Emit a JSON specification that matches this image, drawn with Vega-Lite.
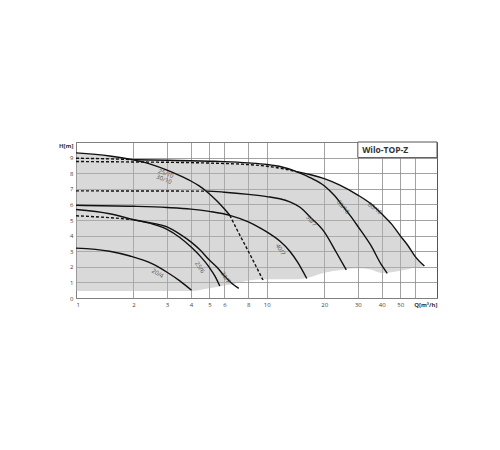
{
  "$schema": "https://vega.github.io/schema/vega-lite/v6.json",
  "width": 361,
  "height": 156,
  "autosize": {"type": "none"},
  "padding": {"left": 76, "top": 142, "right": 63, "bottom": 152},
  "background": "white",
  "config": {
    "font": "Open Sans",
    "view": {"stroke": "#555", "strokeWidth": 1},
    "axis": {
      "ticks": false,
      "domain": false,
      "labelFontSize": 6,
      "labelColor": "#444",
      "gridColor": "#8a8a8a",
      "gridWidth": 0.8,
      "titleFontSize": 6,
      "titleFontWeight": "bold",
      "titleColor": "#333"
    }
  },
  "datasets": {
    "band": [
      {"q": 1, "h": 9.3, "h2": 0.45},
      {"q": 1.5, "h": 9.1, "h2": 0.45},
      {"q": 2, "h": 8.87, "h2": 0.45},
      {"q": 3, "h": 8.83, "h2": 0.45},
      {"q": 4, "h": 8.8, "h2": 0.45},
      {"q": 5, "h": 8.77, "h2": 0.62},
      {"q": 6, "h": 8.74, "h2": 0.8},
      {"q": 7, "h": 8.7, "h2": 0.95},
      {"q": 8, "h": 8.66, "h2": 1.12},
      {"q": 10, "h": 8.56, "h2": 1.2},
      {"q": 12, "h": 8.4, "h2": 1.2},
      {"q": 14, "h": 8.15, "h2": 1.2},
      {"q": 15, "h": 8.05, "h2": 1.22},
      {"q": 17, "h": 7.9, "h2": 1.35},
      {"q": 20, "h": 7.65, "h2": 1.62},
      {"q": 24, "h": 7.25, "h2": 1.78},
      {"q": 30, "h": 6.6, "h2": 1.9},
      {"q": 35, "h": 6.05, "h2": 1.82},
      {"q": 40, "h": 5.4, "h2": 1.6},
      {"q": 45, "h": 4.75, "h2": 1.65},
      {"q": 50, "h": 4.0, "h2": 1.75},
      {"q": 55, "h": 3.35, "h2": 1.85},
      {"q": 60, "h": 2.65, "h2": 1.95},
      {"q": 67, "h": 2.05, "h2": 2.05}
    ],
    "solid": [
      {"curve": "20/4", "q": 1, "h": 3.2},
      {"curve": "20/4", "q": 1.5, "h": 3.0},
      {"curve": "20/4", "q": 1.92, "h": 2.69},
      {"curve": "20/4", "q": 2.5, "h": 2.2},
      {"curve": "20/4", "q": 3, "h": 1.65},
      {"curve": "20/4", "q": 3.5, "h": 1.1},
      {"curve": "20/4", "q": 4.03, "h": 0.5},
      {"curve": "25/6", "q": 1, "h": 5.67},
      {"curve": "25/6", "q": 1.5, "h": 5.4},
      {"curve": "25/6", "q": 2, "h": 5.02},
      {"curve": "25/6", "q": 2.5, "h": 4.75},
      {"curve": "25/6", "q": 3, "h": 4.4},
      {"curve": "25/6", "q": 3.5, "h": 3.88},
      {"curve": "25/6", "q": 4, "h": 3.28},
      {"curve": "25/6", "q": 4.5, "h": 2.65},
      {"curve": "25/6", "q": 5, "h": 1.96},
      {"curve": "25/6", "q": 5.35, "h": 1.4},
      {"curve": "25/6", "q": 5.67, "h": 0.77},
      {"curve": "30/7", "q": 2, "h": 5.02},
      {"curve": "30/7", "q": 2.5, "h": 4.8},
      {"curve": "30/7", "q": 3, "h": 4.56},
      {"curve": "30/7", "q": 3.5, "h": 4.1},
      {"curve": "30/7", "q": 4, "h": 3.6},
      {"curve": "30/7", "q": 4.5, "h": 3.05},
      {"curve": "30/7", "q": 5, "h": 2.43},
      {"curve": "30/7", "q": 5.5, "h": 1.95},
      {"curve": "30/7", "q": 6, "h": 1.41},
      {"curve": "30/7", "q": 6.5, "h": 0.98},
      {"curve": "30/7", "q": 7.13, "h": 0.62},
      {"curve": "40/7", "q": 1, "h": 5.95},
      {"curve": "40/7", "q": 2, "h": 5.88},
      {"curve": "40/7", "q": 3, "h": 5.8},
      {"curve": "40/7", "q": 4, "h": 5.7},
      {"curve": "40/7", "q": 5, "h": 5.55},
      {"curve": "40/7", "q": 6.4, "h": 5.3},
      {"curve": "40/7", "q": 8, "h": 4.88},
      {"curve": "40/7", "q": 9.2, "h": 4.5},
      {"curve": "40/7", "q": 10, "h": 4.24},
      {"curve": "40/7", "q": 11.7, "h": 3.65},
      {"curve": "40/7", "q": 13.2, "h": 3.0},
      {"curve": "40/7", "q": 14.5, "h": 2.3},
      {"curve": "40/7", "q": 16.2, "h": 1.25},
      {"curve": "50/7", "q": 4.87, "h": 6.85},
      {"curve": "50/7", "q": 6, "h": 6.78},
      {"curve": "50/7", "q": 8, "h": 6.64},
      {"curve": "50/7", "q": 10, "h": 6.5},
      {"curve": "50/7", "q": 11.7, "h": 6.36},
      {"curve": "50/7", "q": 13.2, "h": 6.16},
      {"curve": "50/7", "q": 15, "h": 5.8},
      {"curve": "50/7", "q": 17, "h": 5.15},
      {"curve": "50/7", "q": 20, "h": 4.24},
      {"curve": "50/7", "q": 23.2, "h": 2.9},
      {"curve": "50/7", "q": 26.1, "h": 1.8},
      {"curve": "25/10", "q": 1, "h": 9.3},
      {"curve": "25/10", "q": 1.5, "h": 9.1},
      {"curve": "25/10", "q": 2, "h": 8.85},
      {"curve": "25/10", "q": 2.5, "h": 8.55},
      {"curve": "25/10", "q": 3, "h": 8.2},
      {"curve": "25/10", "q": 3.5, "h": 7.85},
      {"curve": "25/10", "q": 4, "h": 7.5},
      {"curve": "25/10", "q": 4.4, "h": 7.2},
      {"curve": "25/10", "q": 4.87, "h": 6.8},
      {"curve": "25/10", "q": 5.5, "h": 6.2},
      {"curve": "25/10", "q": 6, "h": 5.7},
      {"curve": "25/10", "q": 6.4, "h": 5.3},
      {"curve": "65/10", "q": 2, "h": 8.87},
      {"curve": "65/10", "q": 3, "h": 8.83},
      {"curve": "65/10", "q": 4, "h": 8.8},
      {"curve": "65/10", "q": 5, "h": 8.77},
      {"curve": "65/10", "q": 6, "h": 8.74},
      {"curve": "65/10", "q": 8, "h": 8.66},
      {"curve": "65/10", "q": 10, "h": 8.56},
      {"curve": "65/10", "q": 12, "h": 8.4},
      {"curve": "65/10", "q": 14, "h": 8.15},
      {"curve": "65/10", "q": 15, "h": 8.0},
      {"curve": "65/10", "q": 17, "h": 7.7},
      {"curve": "65/10", "q": 20, "h": 7.2},
      {"curve": "65/10", "q": 22.5, "h": 6.6},
      {"curve": "65/10", "q": 25, "h": 5.9},
      {"curve": "65/10", "q": 27.5, "h": 5.25},
      {"curve": "65/10", "q": 30, "h": 4.6},
      {"curve": "65/10", "q": 35, "h": 3.4},
      {"curve": "65/10", "q": 40, "h": 2.1},
      {"curve": "65/10", "q": 42.8, "h": 1.58},
      {"curve": "80/10", "q": 14, "h": 8.12},
      {"curve": "80/10", "q": 15, "h": 8.05},
      {"curve": "80/10", "q": 17, "h": 7.9},
      {"curve": "80/10", "q": 20, "h": 7.65},
      {"curve": "80/10", "q": 24, "h": 7.25},
      {"curve": "80/10", "q": 30, "h": 6.6},
      {"curve": "80/10", "q": 35, "h": 6.05},
      {"curve": "80/10", "q": 40, "h": 5.4},
      {"curve": "80/10", "q": 45, "h": 4.75},
      {"curve": "80/10", "q": 50, "h": 4.0},
      {"curve": "80/10", "q": 55, "h": 3.35},
      {"curve": "80/10", "q": 60, "h": 2.65},
      {"curve": "80/10", "q": 67, "h": 2.05}
    ],
    "dashed": [
      {"curve": "30/7", "q": 1, "h": 5.27},
      {"curve": "30/7", "q": 1.5, "h": 5.15},
      {"curve": "30/7", "q": 2, "h": 5.02},
      {"curve": "50/7", "q": 1, "h": 6.87},
      {"curve": "50/7", "q": 2, "h": 6.86},
      {"curve": "50/7", "q": 3, "h": 6.86},
      {"curve": "50/7", "q": 4, "h": 6.85},
      {"curve": "50/7", "q": 4.87, "h": 6.85},
      {"curve": "30/10", "q": 6.4, "h": 5.3},
      {"curve": "30/10", "q": 7.2, "h": 4.06},
      {"curve": "30/10", "q": 8, "h": 3.0},
      {"curve": "30/10", "q": 8.75, "h": 2.07},
      {"curve": "30/10", "q": 9.55, "h": 1.15},
      {"curve": "65/10", "q": 1, "h": 8.96},
      {"curve": "65/10", "q": 1.5, "h": 8.92},
      {"curve": "65/10", "q": 2, "h": 8.87},
      {"curve": "80/10", "q": 1, "h": 8.75},
      {"curve": "80/10", "q": 2, "h": 8.72},
      {"curve": "80/10", "q": 3, "h": 8.7},
      {"curve": "80/10", "q": 5, "h": 8.65},
      {"curve": "80/10", "q": 8, "h": 8.55},
      {"curve": "80/10", "q": 10, "h": 8.45},
      {"curve": "80/10", "q": 12, "h": 8.3},
      {"curve": "80/10", "q": 14, "h": 8.12}
    ],
    "labels": [
      {"name": "25/10", "q": 2.96, "h": 7.98},
      {"name": "30/10", "q": 2.89, "h": 7.6},
      {"name": "20/4", "q": 2.68, "h": 1.58},
      {"name": "25/6", "q": 4.46, "h": 1.96},
      {"name": "30/7", "q": 6.08, "h": 1.32},
      {"name": "40/7", "q": 11.8, "h": 3.1},
      {"name": "50/7", "q": 17.1, "h": 4.95},
      {"name": "65/10", "q": 25.1, "h": 5.84},
      {"name": "80/10", "q": 36.8, "h": 5.74}
    ],
    "box": [
      {"q": 30, "q2": 78, "h": 9, "h2": 10}
    ],
    "boxtitle": [
      {"name": "Wilo-TOP-Z", "q": 31.6, "h": 9.5}
    ]
  },
  "encoding": {
    "x": {
      "field": "q",
      "type": "quantitative",
      "scale": {"type": "log", "domain": [1, 78], "nice": false},
      "axis": {
        "values": [1, 2, 3, 4, 5, 6, 8, 10, 20, 30, 40, 50, 60],
        "format": "d",
        "labelExpr": "datum.value == 60 ? '' : datum.label",
        "labelPadding": 3,
        "labelOverlap": false,
        "title": "Q[m³/h]",
        "titleX": 361,
        "titleY": 3,
        "titleAlign": "right",
        "titleBaseline": "top"
      }
    },
    "y": {
      "field": "h",
      "type": "quantitative",
      "scale": {"domain": [0, 10], "nice": false},
      "axis": {
        "values": [0, 1, 2, 3, 4, 5, 6, 7, 8, 9, 10],
        "labelExpr": "datum.value == 10 ? '' : datum.label",
        "labelPadding": 3,
        "labelOverlap": false,
        "title": "H[m]",
        "titleAngle": 0,
        "titleX": -3,
        "titleY": 5,
        "titleAlign": "right",
        "titleBaseline": "alphabetic"
      }
    }
  },
  "layer": [
    {
      "data": {"name": "band"},
      "mark": {"type": "area", "fill": "#b4b4b4", "opacity": 0.5, "interpolate": "monotone"},
      "encoding": {"y2": {"field": "h2"}}
    },
    {
      "data": {"name": "solid"},
      "mark": {"type": "line", "color": "#111", "strokeWidth": 1.4, "interpolate": "monotone"},
      "encoding": {"detail": {"field": "curve"}}
    },
    {
      "data": {"name": "dashed"},
      "mark": {"type": "line", "color": "#111", "strokeWidth": 1.4, "strokeDash": [3, 2], "interpolate": "monotone"},
      "encoding": {"detail": {"field": "curve"}}
    },
    {
      "data": {"name": "box"},
      "mark": {"type": "rect", "fill": "white", "stroke": "#555", "strokeWidth": 1},
      "encoding": {"x2": {"field": "q2"}, "y2": {"field": "h2"}}
    },
    {
      "data": {"name": "boxtitle"},
      "mark": {"type": "text", "align": "left", "baseline": "middle", "fontSize": 8.5, "fontWeight": "bold", "color": "#333"},
      "encoding": {"text": {"field": "name"}}
    },
    {
      "data": {"name": "labels"},
      "transform": [{"filter": {"field": "name", "oneOf": ["25/10", "30/10"]}}],
      "mark": {"type": "text", "angle": 22, "fontSize": 6, "color": "#555"},
      "encoding": {"text": {"field": "name"}}
    },
    {
      "data": {"name": "labels"},
      "transform": [{"filter": {"field": "name", "oneOf": ["20/4"]}}],
      "mark": {"type": "text", "angle": 30, "fontSize": 6, "color": "#555"},
      "encoding": {"text": {"field": "name"}}
    },
    {
      "data": {"name": "labels"},
      "transform": [{"filter": {"field": "name", "oneOf": ["80/10"]}}],
      "mark": {"type": "text", "angle": 38, "fontSize": 6, "color": "#555"},
      "encoding": {"text": {"field": "name"}}
    },
    {
      "data": {"name": "labels"},
      "transform": [{"filter": {"field": "name", "oneOf": ["50/7", "65/10"]}}],
      "mark": {"type": "text", "angle": 50, "fontSize": 6, "color": "#555"},
      "encoding": {"text": {"field": "name"}}
    },
    {
      "data": {"name": "labels"},
      "transform": [{"filter": {"field": "name", "oneOf": ["25/6", "30/7", "40/7"]}}],
      "mark": {"type": "text", "angle": 57, "fontSize": 6, "color": "#555"},
      "encoding": {"text": {"field": "name"}}
    }
  ]
}
